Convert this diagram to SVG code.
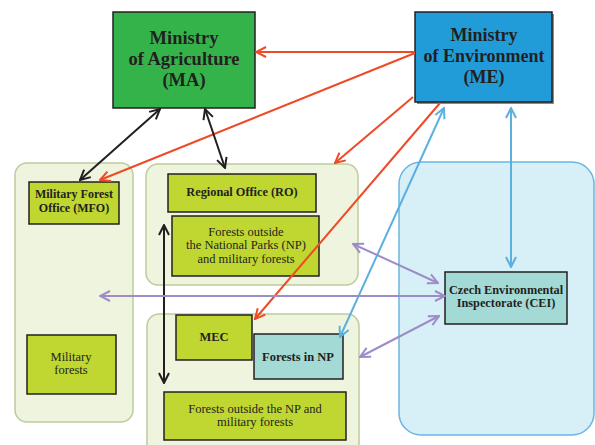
<svg xmlns="http://www.w3.org/2000/svg" width="595" height="445" viewBox="0 0 595 445">
<defs>
<style>
text{font-family:"Liberation Serif","Times New Roman",serif;fill:#231f20;text-anchor:middle}
.b{font-weight:bold}
.cont{fill:#eff4df;stroke:#bccb9c;stroke-width:1.5}
.lg{fill:#bfd730;stroke:#231f20;stroke-width:1.5}
.tq{fill:#a3dad6;stroke:#231f20;stroke-width:1.5}
.red{stroke:#ef4a26;stroke-width:2;fill:none}
.blk{stroke:#231f20;stroke-width:2;fill:none}
.blu{stroke:#5bb0e0;stroke-width:2;fill:none}
.pur{stroke:#9d8cc8;stroke-width:2;fill:none}
</style>
<marker id="mr" viewBox="0 0 12 12" refX="11" refY="6" markerWidth="12" markerHeight="12" markerUnits="userSpaceOnUse" orient="auto-start-reverse"><path d="M1,1 L11,6 L1,11" fill="none" stroke="#ef4a26" stroke-width="2"/></marker>
<marker id="mk" viewBox="0 0 12 12" refX="11" refY="6" markerWidth="12" markerHeight="12" markerUnits="userSpaceOnUse" orient="auto-start-reverse"><path d="M1,1 L11,6 L1,11" fill="none" stroke="#231f20" stroke-width="2"/></marker>
<marker id="mb" viewBox="0 0 12 12" refX="11" refY="6" markerWidth="12" markerHeight="12" markerUnits="userSpaceOnUse" orient="auto-start-reverse"><path d="M1,1 L11,6 L1,11" fill="none" stroke="#5bb0e0" stroke-width="2"/></marker>
<marker id="mp" viewBox="0 0 12 12" refX="11" refY="6" markerWidth="12" markerHeight="12" markerUnits="userSpaceOnUse" orient="auto-start-reverse"><path d="M1,1 L11,6 L1,11" fill="none" stroke="#9d8cc8" stroke-width="2"/></marker>
</defs>
<rect width="595" height="445" fill="#ffffff"/>

<g id="cei-area"><rect x="399" y="162" width="195" height="273" rx="22" fill="#d7eff6" stroke="#6cb6e2" stroke-width="1.5"/></g>
<g id="mfo-area"><rect class="cont" x="15" y="163" width="118" height="259" rx="12"/></g>
<g id="ro-area"><rect class="cont" x="146" y="164" width="212" height="121" rx="12"/></g>
<g id="np-area"><rect class="cont" x="147" y="314" width="212" height="150" rx="12"/></g>

<g id="MA"><rect x="113" y="12" width="142" height="96" fill="#35b34b" stroke="#231f20" stroke-width="1.5"/>
<text class="b" font-size="18.5"><tspan x="184" y="44">Ministry</tspan><tspan x="184" y="65">of Agriculture</tspan><tspan x="184" y="86">(MA)</tspan></text></g>

<g id="ME"><rect x="417" y="14" width="137" height="90" fill="#8a8a8a"/><rect x="415" y="12" width="137" height="90" fill="#219cd8" stroke="#231f20" stroke-width="1.5"/>
<text class="b" font-size="18"><tspan x="484" y="41">Ministry</tspan><tspan x="484" y="62">of Environment</tspan><tspan x="484" y="83">(ME)</tspan></text></g>

<g id="MFO"><rect class="lg" x="29" y="182" width="90" height="42"/>
<text class="b" font-size="12"><tspan x="74" y="198">Military Forest</tspan><tspan x="74" y="212">Office (MFO)</tspan></text></g>

<g id="MilForests"><rect class="lg" x="27" y="335" width="89" height="59"/>
<text font-size="12.5"><tspan x="71" y="361">Military</tspan><tspan x="71" y="374">forests</tspan></text></g>

<g id="RO"><rect class="lg" x="168" y="174" width="148" height="38"/>
<text class="b" font-size="12.3" x="242" y="196">Regional Office (RO)</text></g>

<g id="ForestsOutsideNP"><rect class="lg" x="172" y="216" width="147" height="60"/>
<text font-size="12.5"><tspan x="246" y="236">Forests outside</tspan><tspan x="246" y="249">the National Parks (NP)</tspan><tspan x="246" y="263">and military forests</tspan></text></g>

<g id="MEC"><rect class="lg" x="176" y="315" width="76" height="45"/>
<text class="b" font-size="12.5" x="214" y="341">MEC</text></g>

<g id="ForestsNP"><rect class="tq" x="254" y="334" width="89" height="45"/>
<text class="b" font-size="12.5" x="298" y="361">Forests in NP</text></g>

<g id="ForestsOutsideBottom"><rect class="lg" x="164" y="392" width="182" height="48"/>
<text font-size="12.5"><tspan x="255" y="413">Forests outside the NP and</tspan><tspan x="255" y="426">military forests</tspan></text></g>

<g id="CEI"><rect class="tq" x="445" y="272" width="122" height="52"/>
<text class="b" font-size="12.3"><tspan x="506" y="294">Czech Environmental</tspan><tspan x="506" y="307">Inspectorate (CEI)</tspan></text></g>

<g id="connectors">
<line class="red" x1="415" y1="52" x2="256" y2="52" marker-end="url(#mr)"/>
<line class="red" x1="415" y1="53" x2="100" y2="180" marker-end="url(#mr)"/>
<line class="red" x1="413" y1="97" x2="335" y2="163" marker-end="url(#mr)"/>
<line class="red" x1="440" y1="103" x2="255" y2="319" marker-end="url(#mr)"/>
<line class="blk" x1="160" y1="109" x2="80" y2="180" marker-start="url(#mk)" marker-end="url(#mk)"/>
<line class="blk" x1="205" y1="109" x2="225" y2="168" marker-start="url(#mk)" marker-end="url(#mk)"/>
<line class="blk" x1="164" y1="225" x2="164" y2="383" marker-start="url(#mk)" marker-end="url(#mk)"/>
<line class="blu" x1="444" y1="108" x2="340" y2="337" marker-start="url(#mb)" marker-end="url(#mb)"/>
<line class="blu" x1="511" y1="108" x2="511" y2="267" marker-start="url(#mb)" marker-end="url(#mb)"/>
<line class="pur" x1="353" y1="244" x2="438" y2="283" marker-start="url(#mp)" marker-end="url(#mp)"/>
<line class="pur" x1="100" y1="296" x2="445" y2="296" marker-start="url(#mp)" marker-end="url(#mp)"/>
<line class="pur" x1="439" y1="316" x2="360" y2="357" marker-start="url(#mp)" marker-end="url(#mp)"/>
</g>
</svg>
